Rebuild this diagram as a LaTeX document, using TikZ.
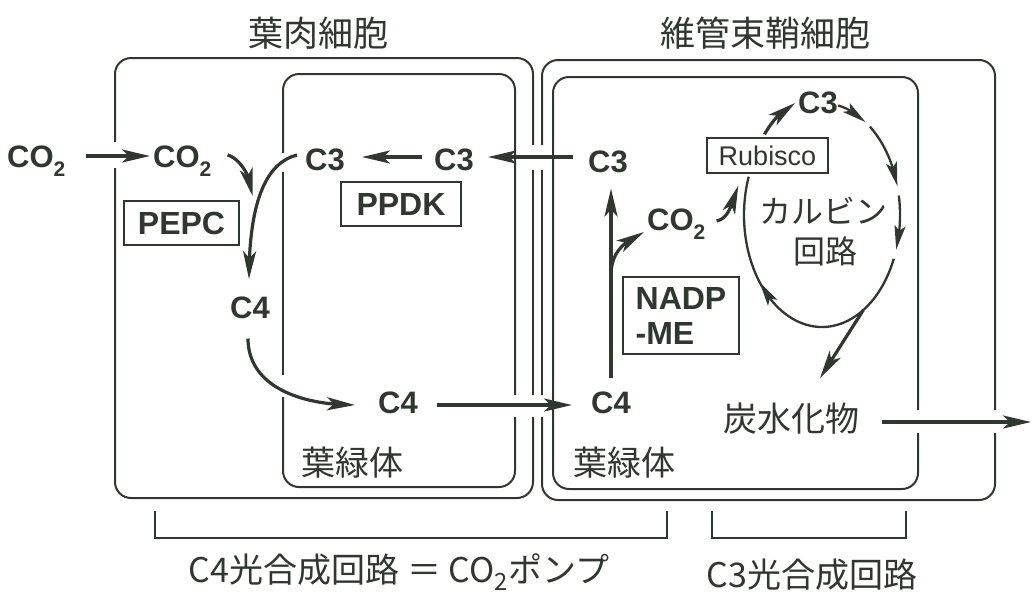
\documentclass[tikz,border=0pt]{standalone}
\usepackage{fontspec}
\setmainfont{Liberation Sans}
\newfontfamily\jp{Noto Sans CJK JP}
\usetikzlibrary{arrows.meta,calc,bending}
\newcommand\subtwo{\raisebox{-0.3em}{\fontsize{21}{21}\selectfont 2}}
\definecolor{ink}{RGB}{48,54,48}
\begin{document}
\begin{tikzpicture}[x=1pt,y=-1pt,
  wall/.style={draw=ink, line width=2pt, rounded corners=16pt},
  brk/.style={draw=ink, line width=2pt},
  arr/.style={draw=ink, line width=3.2pt, -{Stealth[length=28pt,width=13pt,inset=7pt]}},
  cyc/.style={draw=ink, line width=2.3pt},
  cycarr/.style={cyc, -{Stealth[length=24pt,width=11pt,inset=5pt]}},
  lab/.style={text=ink, inner sep=0pt, anchor=base, font=\fontsize{31}{31}\selectfont\bfseries},
  enz/.style={draw=ink, fill=white, line width=1.5pt, text=ink, inner sep=0pt, font=\fontsize{32}{32}\selectfont\bfseries},
  jt/.style={text=ink, inner sep=0pt, font=\jp\fontsize{34}{34}\selectfont}]
\useasboundingbox (0,0) rectangle (1033,595);

% --- cell walls ---
\draw[wall] (115,168) -- (115,498) -- (533,498) -- (533,417);
\draw[wall] (533,395) -- (533,170);
\draw[wall] (533,145) -- (533,58) -- (115,58) -- (115,142);
\draw[wall] (283,397) -- (283,487) -- (515,487) -- (515,417);
\draw[wall] (515,395) -- (515,74) -- (283,74) -- (283,153);
\draw[wall] (283,172) -- (283,375);
\draw[wall] (542,417) -- (542,500) -- (995,500) -- (995,433);
\draw[wall] (995,410) -- (995,60) -- (542,60) -- (542,145);
\draw[wall] (542,170) -- (542,395);
\draw[wall] (918,433) -- (918,489) -- (553,489) -- (553,77) -- (918,77) -- (918,410);

% --- titles and labels ---
\node[jt, font=\jp\fontsize{35}{35}\selectfont] (t1) at (318,33) {葉肉細胞};
\node[jt, font=\jp\fontsize{35}{35}\selectfont] (t2) at (765,33) {維管束鞘細胞};
\node[jt] (chl1) at (352,463) {葉緑体};
\node[jt] (chl2) at (624,463) {葉緑体};
\node[jt, font=\jp\fontsize{32}{32}\selectfont] (calvin) at (823,211) {カルビン};
\node[jt, font=\jp\fontsize{32}{32}\selectfont] (kairo) at (825,251) {回路};
\node[jt] (carb) at (791,419) {炭水化物};
\node[jt] (c4lab) at (399,572) {C4光合成回路 ＝ CO\textsubscript{2}ポンプ};
\node[jt] (c3lab) at (812,575) {C3光合成回路};

% --- metabolites ---
\node[lab, anchor=base west] (co2out) at (7,167) {CO\subtwo};
\node[lab, anchor=base west] (co2in) at (153,167) {CO\subtwo};
\node[lab] (c3m1) at (325,170) {C3};
\node[lab] (c3m2) at (454,170) {C3};
\node[lab] (c3b) at (608,172) {C3};
\node[lab] (c4m1) at (250,318) {C4};
\node[lab] (c4m2) at (398,413) {C4};
\node[lab] (c4b) at (611,413) {C4};
\node[lab, anchor=base west] (co2b) at (647,230) {CO\subtwo};
\node[lab] (c3c) at (818,113) {C3};

% --- Calvin cycle ---
\coordinate (cal) at (822,215);
\draw[cycarr] ($(cal)+({78*cos(-78)},{112*sin(-78)})$) arc[start angle=-78, end angle=-56, x radius=78, y radius=112];
\draw[cycarr] ($(cal)+({78*cos(-52)},{112*sin(-52)})$) arc[start angle=-52, end angle=-15, x radius=78, y radius=112];
\draw[cycarr] ($(cal)+({78*cos(-10)},{112*sin(-10)})$) arc[start angle=-10, end angle=18, x radius=78, y radius=112];
\draw[cycarr] ($(cal)+({78*cos(23)},{112*sin(23)})$) arc[start angle=23, end angle=143, x radius=78, y radius=112];
\draw[cyc] ($(cal)+({78*cos(140)},{112*sin(140)})$) arc[start angle=140, end angle=200, x radius=78, y radius=112];
\coordinate (calB) at ($(cal)+({78*cos(58)},{112*sin(58)})$);

% --- enzymes ---
\node[enz, minimum width=115pt, minimum height=44pt] (pepc) at (181.5,223) {PEPC};
\node[enz, minimum width=120pt, minimum height=44pt] (ppdk) at (401,204) {PPDK};
\node[enz, minimum width=121pt, minimum height=35pt, font=\fontsize{27}{27}\selectfont] (rub) at (767.5,155.5) {Rubisco};
\node[enz, minimum width=116pt, minimum height=77pt, align=left, font=\fontsize{32}{35}\selectfont\bfseries] (nadp) at (681,315.5) {NADP\\-ME};

% --- arrows ---
\draw[arr] ($(co2out.base east)+(20,-11)$) -- ($(co2in.base west)+(-3,-11)$);
\draw[arr] ($(co2in.base east)+(16,-12)$) .. controls +(12,3) and +(0,-18) .. ($(pepc.north east)+(13,-4)$);
\draw[arr] ($(c3m1.base west)+(-8,-15)$) .. controls +(-32,8) and +(0,-75) .. ($(c4m1.north)+(-1,-17)$);
\draw[arr] ($(c4m1.south)+(-2,20)$) .. controls +(0,45) and +(-60,0) .. ($(c4m2.base west)+(-23,-8)$);
\draw[arr] ($(c4m2.base east)+(19,-8)$) -- ($(c4b.base west)+(-19,-8)$);
\draw[arr] ($(c3m2.base west)+(-12,-13)$) -- ($(c3m1.base east)+(17,-13)$);
\draw[arr] ($(c3b.base west)+(-15,-15)$) -- ($(c3m2.base east)+(14,-13)$);
\draw[arr] ($(c4b.north)+(0,-13)$) -- ($(c3b.south)+(3,16)$);
\draw[arr] ($(c4b.north)+(0,-115)$) .. controls +(0,-25) and +(-20,10) .. ($(co2b.base west)+(-3,2)$);
\draw[arr] ($(co2b.base east)+(11,-9)$) .. controls +(14,-3) and +(-6,14) .. ($(rub.south west)+(32,12)$);
\draw[arr] ($(rub.north)+(-3,-3)$) .. controls +(8,-14) and +(-12,6) .. ($(c3c.base west)+(-3,-10)$);
\draw[arr] (calB) -- ($(carb.north)+(29,-25)$);
\coordinate (out) at (1031,422);
\draw[arr] ($(carb.east)+(23,3)$) -- (out);

% --- brackets ---
\draw[brk] (155,511) -- (155,538) -- (667,538) -- (667,511);
\draw[brk] (712,511) -- (712,538) -- (906,538) -- (906,511);
\end{tikzpicture}
\end{document}
